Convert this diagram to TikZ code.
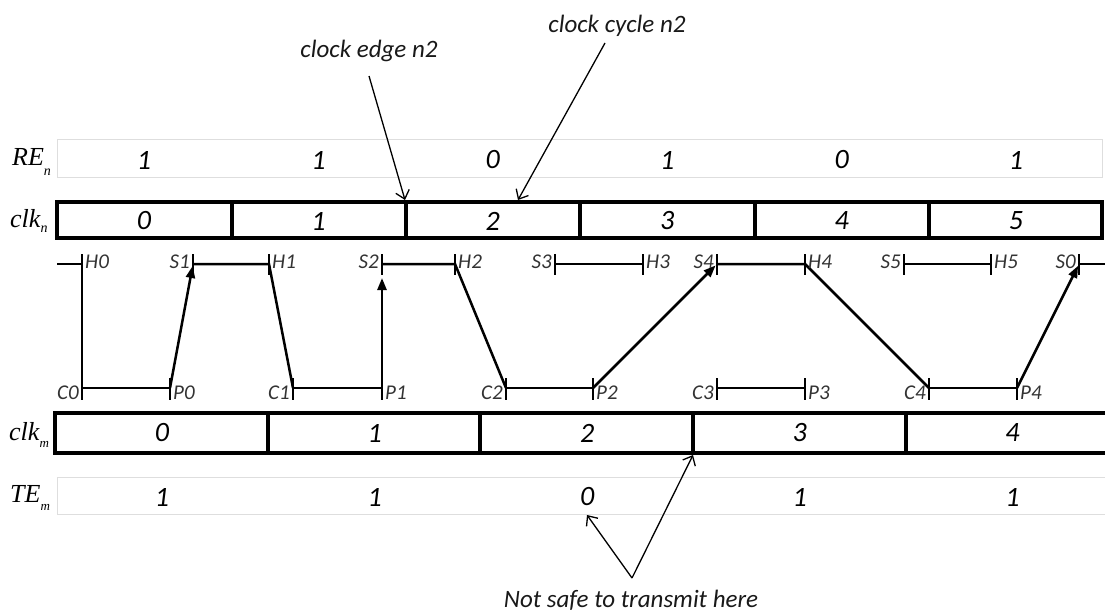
\documentclass[tikz,border=0pt]{standalone}
\usepackage{fontspec}
\newfontfamily\lblfont{Carlito}
\newfontfamily\serifit{Liberation Serif}
\usetikzlibrary{arrows.meta}
\begin{document}
\begin{tikzpicture}[x=1pt,y=-1pt,
  clkbox/.style={line width=3.4pt},
  faint/.style={draw=black!13,line width=0.9pt},
  hiwire/.style={line width=2.5pt},
  lowire/.style={line width=1.8pt},
  thinwire/.style={line width=1.1pt},
  tk/.style={line width=1.7pt},
  rise/.style={hiwire,-{Triangle[length=12pt,width=9pt]}},
  callout/.style={line width=1.3pt,-{Straight Barb[length=8pt,width=14pt]}},
  digit/.style={inner sep=0pt,font=\lblfont\itshape\fontsize{28}{30}\selectfont},
  ptlab/.style={inner sep=0pt,text=black!80,font=\lblfont\itshape\fontsize{21}{22}\selectfont},
  note/.style={inner sep=0pt,anchor=base,text=black!90,font=\lblfont\itshape\fontsize{25}{27}\selectfont},
  rowlab/.style={inner sep=0pt,anchor=base west,font=\serifit\itshape\fontsize{26}{28}\selectfont}
]
\clip (0,0) rectangle (1105,615);
\fill[white] (0,0) rectangle (1105,615);

% ---- row labels ----
\node[rowlab] (lre)  at (12,165) {RE\raisebox{-10pt}{\fontsize{14}{14}\selectfont n}};
\node[rowlab] (lclkn) at (10,227) {clk\raisebox{-5pt}{\fontsize{14}{14}\selectfont n}};
\node[rowlab] (lclkm) at (9,440) {clk\raisebox{-7pt}{\fontsize{13}{13}\selectfont m}};
\node[rowlab] (lte)  at (10,502) {TE\raisebox{-8pt}{\fontsize{13}{13}\selectfont m}};

% ---- RE_n row ----
\draw[faint] (57,139) rectangle (1102,177);
\foreach \v [count=\i from 0] in {1,1,0,1,0,1}
  \node[digit] (re\i) at ({144+174.4*\i},160) {\v};

% ---- clk_n row ----
\draw[clkbox] (57,202) rectangle (1102,238);
\foreach \x in {232,406,580,755,929}
  \draw[clkbox] (\x,202) -- (\x,238);
\foreach \i in {0,...,5}
  \node[digit] (cn\i) at ({144+174.4*\i},221) {\i};

% ---- clk_m row ----
\draw[clkbox] (1110,413) -- (55,413) -- (55,453) -- (1110,453);
\foreach \x in {268,480,693,906}
  \draw[clkbox] (\x,413) -- (\x,453);
\foreach \i in {0,...,4}
  \node[digit] (cm\i) at ({162+212.6*\i},433) {\i};

% ---- TE_m row ----
\draw[faint] (1110,477) -- (57,477) -- (57,514) -- (1110,514);
\foreach \v [count=\i from 0] in {1,1,0,1,1}
  \node[digit] (te\i) at ({162+212.6*\i},497) {\v};

% ---- waveform points ----
\coordinate (W0) at (57,264);
\coordinate (W1) at (1106,264);
\coordinate (H0) at (82,264);   \coordinate (C0) at (82,388);
\coordinate (P0) at (170,388);  \coordinate (S1) at (193,264);
\coordinate (H1) at (269,264);  \coordinate (C1) at (293,388);
\coordinate (P1) at (382,388);  \coordinate (S2) at (382,264);
\coordinate (H2) at (455,264);  \coordinate (C2) at (506,388);
\coordinate (P2) at (593,388);  \coordinate (S3) at (555,264);
\coordinate (H3) at (643,264);  \coordinate (S4) at (717,264);
\coordinate (C3) at (717,388);  \coordinate (P3) at (805,388);
\coordinate (H4) at (805,264);  \coordinate (S5) at (904,264);
\coordinate (H5) at (991,264);  \coordinate (C4) at (929,388);
\coordinate (P4) at (1017,388); \coordinate (S0) at (1079,264);

% ticks
\foreach \p in {H0,S1,H1,S2,H2,S3,H3,S4,H4,S5,H5,S0}
  \draw[tk] ([yshift=10pt]\p) -- ([yshift=-11pt]\p);
\foreach \p in {C0,P0,C1,P1,C2,P2,C3,P3,C4,P4}
  \draw[tk] ([yshift=10pt]\p) -- ([yshift=-12pt]\p);

% wire segments
\draw[hiwire] (W0) -- (H0) -- (C0);
\draw[lowire] (C0) -- (P0);
\draw[rise,shorten >=2pt] (P0) -- (S1);
\draw[hiwire] (S1) -- (H1) -- (C1);
\draw[lowire] (C1) -- (P1);
\draw[rise,shorten >=14pt] (P1) -- (S2);
\draw[hiwire] (S2) -- (H2) -- (C2);
\draw[lowire] (C2) -- (P2);
\draw[rise,shorten >=2pt] (P2) -- (S4);
\draw[thinwire] (S3) -- (H3);
\draw[thinwire] (C3) -- (P3);
\draw[hiwire] (S4) -- (H4) -- (C4);
\draw[thinwire] (S5) -- (H5);
\draw[lowire] (C4) -- (P4);
\draw[rise,shorten >=2pt] (P4) -- (S0);
\draw[hiwire] (S0) -- (W1);

% point labels
\foreach \p in {H0,H1,H2,H3,H4,H5}
  \node[ptlab,anchor=west] (l\p) at ([xshift=3pt,yshift=2pt]\p) {\p};
\foreach \p in {S1,S2,S3,S4,S5,S0}
  \node[ptlab,anchor=east] (l\p) at ([xshift=-3pt,yshift=2pt]\p) {\p};
\foreach \p in {C0,C1,C2,C3,C4}
  \node[ptlab,anchor=east] (l\p) at ([xshift=-3pt,yshift=-5pt]\p) {\p};
\foreach \p in {P0,P1,P2,P3,P4}
  \node[ptlab,anchor=west] (l\p) at ([xshift=3pt,yshift=-5pt]\p) {\p};

% ---- annotations ----
\node[note] (edge)  at (369,58)  {clock edge n2};
\node[note] (cycle) at (617,33)  {clock cycle n2};
\node[note] (unsafe) at (631,607) {Not safe to transmit here};
\coordinate (edgeFrom) at (369,76);
\coordinate (edgeTo) at (405,200);
\coordinate (cycleFrom) at (605,43);
\coordinate (cycleTo) at (518,200);
\coordinate (apex) at (632,578);
\coordinate (zeroTo) at (587,515);
\coordinate (edgeMTo) at (693,455);
\draw[callout] (edgeFrom) -- (edgeTo);
\draw[callout] (cycleFrom) -- (cycleTo);
\draw[callout] (apex) -- (zeroTo);
\draw[callout] (apex) -- (edgeMTo);
\end{tikzpicture}
\end{document}
